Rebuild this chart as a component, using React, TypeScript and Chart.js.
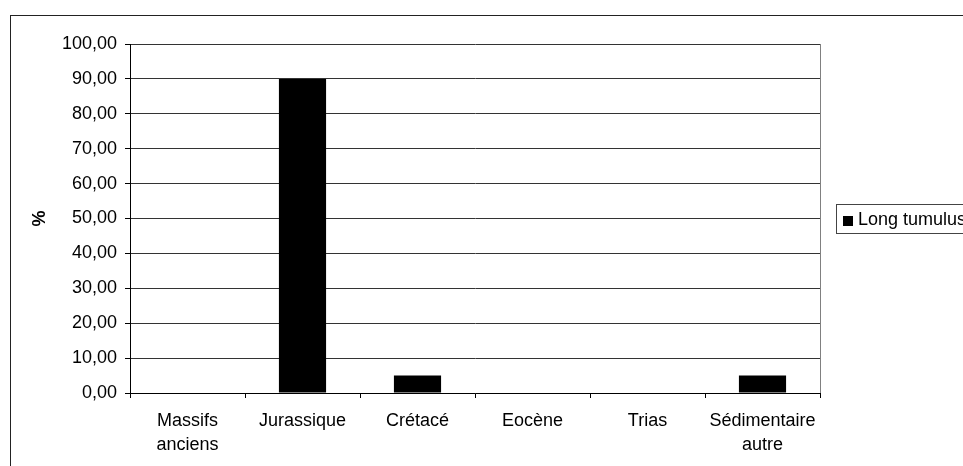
import React, { useEffect, useRef } from "react";
import { Chart, registerables } from "chart.js";

Chart.register(...registerables);

const categories: (string | string[])[] = [
  ["Massifs", "anciens"],
  "Jurassique",
  "Crétacé",
  "Eocène",
  "Trias",
  ["Sédimentaire", "autre"],
];
const seriesLabel = "Long tumulus";
const seriesValues: number[] = [0, 90, 5, 0, 0, 5];
const yMin = 0;
const yMax = 100;
const yStep = 10;
const yTitle = "%";

const FONT = "'Liberation Sans', Arial, sans-serif";

const framePlugin = {
  id: "frame",
  beforeDraw(chart: any) {
    const ctx = chart.ctx;
    ctx.save();
    ctx.fillStyle = "#ffffff";
    ctx.fillRect(0, 0, chart.width, chart.height);
    ctx.strokeStyle = "#222222";
    ctx.lineWidth = 1;
    ctx.strokeRect(10.5, 15.5, 2000, 2000);
    ctx.restore();
  },
  afterDraw(chart: any) {
    const ctx = chart.ctx;
    const a = chart.chartArea;
    ctx.save();
    ctx.strokeStyle = "#808080";
    ctx.lineWidth = 1;
    ctx.beginPath();
    ctx.moveTo(Math.round(a.right) + 0.5, a.top);
    ctx.lineTo(Math.round(a.right) + 0.5, a.bottom);
    ctx.stroke();
    // legend
    const ds = chart.data.datasets[0];
    ctx.strokeStyle = "#444444";
    ctx.strokeRect(836.5, 204.5, 200, 29);
    ctx.fillStyle = ds.backgroundColor;
    ctx.fillRect(843, 216, 10, 10);
    ctx.fillStyle = "#000000";
    ctx.font = `18px ${FONT}`;
    ctx.textBaseline = "middle";
    ctx.textAlign = "left";
    ctx.fillText(ds.label, 858, 220);
    ctx.restore();
  },
};

export default function App() {
  const ref = useRef<HTMLCanvasElement>(null);
  useEffect(() => {
    if (!ref.current) return;
    const chart = new Chart(ref.current, {
      type: "bar",
      data: {
        labels: categories,
        datasets: [
          {
            label: seriesLabel,
            data: seriesValues,
            backgroundColor: "#000000",
            borderWidth: 0,
            barPercentage: 0.41,
            categoryPercentage: 1,
          },
        ],
      },
      options: {
        responsive: false,
        animation: false,
        layout: { padding: { left: 0, right: 143, top: 44, bottom: 0 } },
        plugins: {
          legend: { display: false },
          tooltip: { enabled: false },
        },
        scales: {
          x: {
            grid: {
              drawOnChartArea: false,
              drawTicks: true,
              tickLength: 5,
              tickColor: "#000000",
              offset: true,
            },
            border: { display: true, color: "#000000" },
            ticks: {
              color: "#000000",
              padding: 12,
              maxRotation: 0,
              autoSkip: false,
              font: { family: FONT, size: 18, lineHeight: 1.28 },
            },
            afterFit(scale: any) {
              scale.height = 73;
            },
          },
          y: {
            min: yMin,
            max: yMax,
            grid: {
              color: "#333333",
              tickLength: 5,
              tickColor: "#000000",
            },
            border: { display: true, color: "#000000" },
            ticks: {
              stepSize: yStep,
              color: "#000000",
              padding: 8,
              font: { family: FONT, size: 18 },
              callback: (v: any) => Number(v).toFixed(2).replace(".", ","),
            },
            title: {
              display: true,
              text: yTitle,
              color: "#000000",
              font: { family: FONT, size: 18, weight: "bold" },
              padding: { top: 29, bottom: 0 },
            },
            afterFit(scale: any) {
              scale.width = 130;
            },
          },
        },
      },
      plugins: [framePlugin],
    });
    return () => chart.destroy();
  }, []);
  return (
    <div style={{ position: "fixed", left: 0, top: 0, width: 963, height: 466 }}>
      <canvas ref={ref} width={963} height={466} style={{ width: 963, height: 466, display: "block" }} />
    </div>
  );
}
